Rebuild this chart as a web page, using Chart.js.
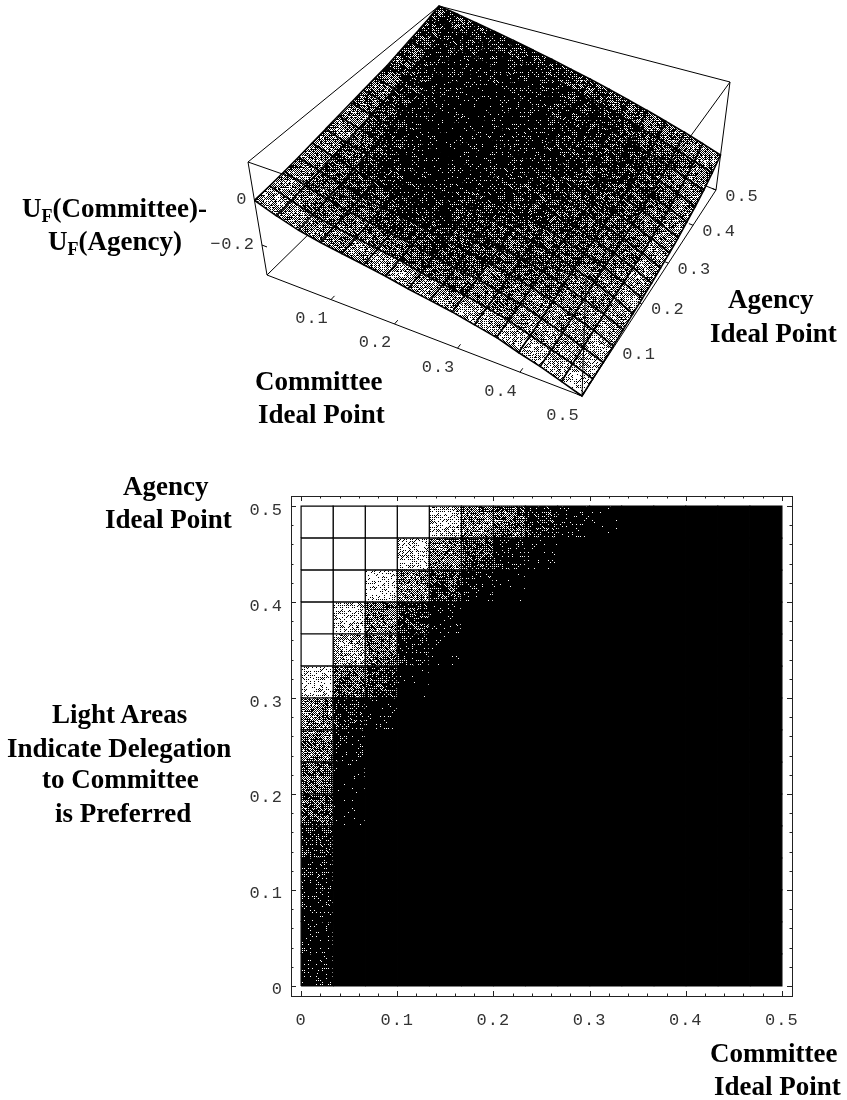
<!DOCTYPE html>
<html>
<head>
<meta charset="utf-8">
<title>Delegation to committee or agency</title>
<script src="https://cdn.jsdelivr.net/npm/chart.js@4/dist/chart.umd.min.js"></script>
<style>
  html, body { margin: 0; padding: 0; background: #fff; }
  #page { position: relative; width: 847px; height: 1100px; overflow: hidden; }
  canvas { position: absolute; left: 0; display: block; }
  #surfaceChart { top: 0; }
  #densityChart { top: 440px; }
  .note { position: absolute; font: bold 27px/30px "Liberation Serif", serif; color: #000; white-space: nowrap; }
  .note sub { font-size: 18px; line-height: 0; vertical-align: -5px; }
</style>
</head>
<body>
<div id="page">
  <canvas id="surfaceChart" width="847" height="440"></canvas>
  <canvas id="densityChart" width="847" height="660"></canvas>
  <div class="note" style="left:22px;top:193px">U<sub>F</sub>(Committee)-</div>
  <div class="note" style="left:48px;top:226px">U<sub>F</sub>(Agency)</div>
  <div class="note" style="left:255px;top:366px">Committee</div>
  <div class="note" style="left:258px;top:399px">Ideal Point</div>
  <div class="note" style="left:728px;top:284px">Agency</div>
  <div class="note" style="left:710px;top:318px">Ideal Point</div>
  <div class="note" style="left:123px;top:471px">Agency</div>
  <div class="note" style="left:105px;top:504px">Ideal Point</div>
  <div class="note" style="left:52px;top:699px">Light Areas</div>
  <div class="note" style="left:7px;top:733px">Indicate Delegation</div>
  <div class="note" style="left:42px;top:764px">to Committee</div>
  <div class="note" style="left:55px;top:798px">is Preferred</div>
  <div class="note" style="left:710px;top:1038px">Committee</div>
  <div class="note" style="left:714px;top:1071px">Ideal Point</div>
</div>
<script>
// --- DATA ---
const gridEdges = [0, .0333, .0667, .1, .1333, .1667, .2, .2333, .2667, .3, .3333, .3667, .4, .4333, .4667, .5];
const planeTicks = [0, 0.1, 0.2, 0.3, 0.4, 0.5];
const heightTicks = [0, -0.2];

// surface heights, one row per agency edge (0 first), one column per committee edge
const surfaceHeights = [
  [0, -.035, -.065, -.085, -.1, -.115, -.13, -.15, -.165, -.18, -.2, -.22, -.25, -.275, -.305, -.334],
  [.005, -.029, -.059, -.079, -.095, -.11, -.125, -.146, -.162, -.175, -.195, -.215, -.245, -.272, -.3, -.331],
  [.012, -.022, -.05, -.072, -.089, -.104, -.12, -.14, -.156, -.17, -.189, -.21, -.24, -.268, -.297, -.329],
  [.02, -.013, -.042, -.063, -.081, -.096, -.113, -.132, -.148, -.161, -.182, -.203, -.232, -.26, -.29, -.324],
  [.03, -.003, -.032, -.053, -.071, -.087, -.104, -.122, -.138, -.153, -.174, -.196, -.226, -.252, -.285, -.319],
  [.04, .007, -.02, -.043, -.061, -.077, -.093, -.108, -.124, -.139, -.161, -.183, -.212, -.241, -.275, -.314],
  [.05, .018, -.01, -.033, -.053, -.069, -.085, -.101, -.118, -.135, -.157, -.18, -.209, -.238, -.272, -.309],
  [.06, .029, 0, -.023, -.043, -.06, -.079, -.096, -.114, -.132, -.155, -.178, -.207, -.235, -.268, -.304],
  [.07, .04, .012, -.011, -.033, -.052, -.069, -.089, -.107, -.127, -.149, -.172, -.201, -.229, -.262, -.296],
  [.08, .051, .023, 0, -.022, -.043, -.061, -.082, -.101, -.121, -.144, -.168, -.195, -.223, -.254, -.288],
  [.09, .061, .034, .01, -.012, -.033, -.052, -.073, -.093, -.114, -.137, -.162, -.188, -.216, -.246, -.278],
  [.105, .077, .051, .026, .004, -.018, -.038, -.06, -.081, -.103, -.126, -.15, -.176, -.204, -.232, -.263],
  [.12, .092, .067, .042, .02, -.003, -.024, -.047, -.068, -.091, -.114, -.139, -.165, -.191, -.219, -.248],
  [.135, .109, .084, .06, .037, .014, -.008, -.031, -.054, -.076, -.1, -.124, -.149, -.175, -.201, -.228],
  [.152, .127, .104, .08, .057, .034, .011, -.011, -.034, -.057, -.08, -.104, -.128, -.152, -.177, -.202],
  [.172, .15, .127, .105, .083, .06, .038, .015, -.007, -.03, -.053, -.076, -.099, -.122, -.146, -.17]
];

// grey level of each surface facet (0 black, 1 white), same row order
const surfaceShades = [
  [.6, .52, .45, .45, .52, .6, .6, .52, .5, .62, .62, .68, .72, .72, .85],
  [.47, .4, .33, .33, .32, .3, .25, .3, .33, .36, .4, .55, .55, .58, .7],
  [.42, .33, .27, .24, .2, .17, .18, .2, .25, .3, .34, .45, .48, .55, .7],
  [.42, .3, .2, .16, .12, .11, .14, .18, .22, .25, .27, .35, .42, .5, .6],
  [.45, .27, .16, .1, .07, .07, .11, .15, .2, .23, .25, .3, .37, .45, .58],
  [.5, .24, .13, .07, .05, .06, .09, .12, .16, .2, .23, .27, .33, .43, .6],
  [.45, .22, .1, .06, .04, .05, .07, .1, .14, .17, .21, .25, .31, .43, .58],
  [.36, .17, .08, .04, .03, .04, .06, .09, .12, .15, .19, .23, .29, .37, .56],
  [.32, .15, .07, .04, .03, .04, .06, .08, .11, .14, .17, .21, .27, .37, .54],
  [.28, .13, .07, .04, .03, .04, .06, .08, .1, .13, .16, .2, .26, .33, .5],
  [.25, .11, .07, .04, .03, .04, .06, .08, .1, .12, .14, .18, .24, .31, .48],
  [.22, .11, .07, .05, .04, .05, .06, .08, .1, .12, .14, .16, .22, .3, .44],
  [.2, .12, .08, .06, .06, .06, .07, .08, .1, .12, .15, .17, .22, .3, .42],
  [.18, .12, .09, .08, .08, .08, .09, .1, .12, .13, .17, .2, .26, .33, .42],
  [.16, .15, .14, .13, .13, .13, .17, .21, .24, .24, .27, .32, .38, .42, .48]
];

// grey level of each density cell, agency 0 row first
const densityShades = [
  [.05, 0, 0, 0, 0, 0, 0, 0, 0, 0, 0, 0, 0, 0, 0],
  [.04, 0, 0, 0, 0, 0, 0, 0, 0, 0, 0, 0, 0, 0, 0],
  [.05, 0, 0, 0, 0, 0, 0, 0, 0, 0, 0, 0, 0, 0, 0],
  [.07, 0, 0, 0, 0, 0, 0, 0, 0, 0, 0, 0, 0, 0, 0],
  [.12, 0, 0, 0, 0, 0, 0, 0, 0, 0, 0, 0, 0, 0, 0],
  [.25, .01, 0, 0, 0, 0, 0, 0, 0, 0, 0, 0, 0, 0, 0],
  [.3, .02, 0, 0, 0, 0, 0, 0, 0, 0, 0, 0, 0, 0, 0],
  [.4, .04, 0, 0, 0, 0, 0, 0, 0, 0, 0, 0, 0, 0, 0],
  [.45, .1, .03, 0, 0, 0, 0, 0, 0, 0, 0, 0, 0, 0, 0],
  [.85, .3, .15, .01, 0, 0, 0, 0, 0, 0, 0, 0, 0, 0, 0],
  [1, .65, .35, .07, .01, 0, 0, 0, 0, 0, 0, 0, 0, 0, 0],
  [1, .8, .4, .15, .03, 0, 0, 0, 0, 0, 0, 0, 0, 0, 0],
  [1, 1, .88, .45, .2, .04, .01, 0, 0, 0, 0, 0, 0, 0, 0],
  [1, 1, 1, .82, .42, .2, .06, .02, 0, 0, 0, 0, 0, 0, 0],
  [1, 1, 1, 1, .78, .45, .33, .12, .04, .01, 0, 0, 0, 0, 0]
];

// --- 3D VIEW ---
// where the box corners land on the hidden axes: c0/a0, c.5/a0, c.5/a.5, c0/a.5
const boxFloor = [[267, 275], [582, 396], [716, 190], [459, 87]];
const boxRoof = [[248, 162], [586, 280], [730, 82], [439, 6]];
const heightRange = [-0.334, 0.172];

const makeHomography = (q) => {
    const [[x0, y0], [x1, y1], [x2, y2], [x3, y3]] = q;
    const dx1 = x1 - x2, dx2 = x3 - x2, sx = x0 - x1 + x2 - x3;
    const dy1 = y1 - y2, dy2 = y3 - y2, sy = y0 - y1 + y2 - y3;
    const den = dx1 * dy2 - dx2 * dy1;
    const g = (sx * dy2 - dx2 * sy) / den;
    const h = (dx1 * sy - sx * dy1) / den;
    return (u, v) => {
        const w = g * u + h * v + 1;
        return [
            ((x1 - x0 + g * x1) * u + (x3 - x0 + h * x3) * v + x0) / w,
            ((y1 - y0 + g * y1) * u + (y3 - y0 + h * y3) * v + y0) / w
        ];
    };
};
const floorMap = makeHomography(boxFloor);
const roofMap = makeHomography(boxRoof);

// committee, agency, height -> position on the hidden axes
const project = (c, a, z) => {
    const f = (z - heightRange[0]) / (heightRange[1] - heightRange[0]);
    const p = floorMap(c / 0.5, a / 0.5);
    const q = roofMap(c / 0.5, a / 0.5);
    return { x: p[0] + (q[0] - p[0]) * f, y: p[1] + (q[1] - p[1]) * f };
};

// --- HALFTONE FILLS ---
const bayer = [
    [0, 32, 8, 40, 2, 34, 10, 42], [48, 16, 56, 24, 50, 18, 58, 26],
    [12, 44, 4, 36, 14, 46, 6, 38], [60, 28, 52, 20, 62, 30, 54, 22],
    [3, 35, 11, 43, 1, 33, 9, 41], [51, 19, 59, 27, 49, 17, 57, 25],
    [15, 47, 7, 39, 13, 45, 5, 37], [63, 31, 55, 23, 61, 29, 53, 21]
];
// integer hash, only used to roughen the print texture
const grain = (x, y) => {
    let h = Math.imul(x, 374761393) + Math.imul(y, 668265263);
    h = Math.imul(h ^ (h >>> 13), 1274126177);
    return ((h ^ (h >>> 16)) >>> 0) / 4294967296;
};
const TILE = 96;
// threshold of every tile pixel, turned into its rank so a level keeps its mean brightness
const tileRanks = (() => {
    const raw = [];
    for (let y = 0; y < TILE; y++) {
        for (let x = 0; x < TILE; x++) {
            raw.push(0.55 * (bayer[y % 8][x % 8] + 0.5) / 64 + 0.3 * grain(x, y) + 0.15 * grain(x >> 2, (y >> 2) + 500));
        }
    }
    const order = raw.map((v, i) => i).sort((a, b) => raw[a] - raw[b]);
    const ranks = new Float32Array(raw.length);
    order.forEach((idx, r) => { ranks[idx] = (r + 0.5) / raw.length; });
    return ranks;
})();
const fillCache = {};
const halftone = (level) => {
    if (level <= 0) return '#000';
    if (level >= 1) return '#fff';
    const key = Math.round(level * 128);
    if (fillCache[key]) return fillCache[key];
    const tile = document.createElement('canvas');
    tile.width = tile.height = TILE;
    const tctx = tile.getContext('2d');
    const img = tctx.createImageData(TILE, TILE);
    tileRanks.forEach((rank, n) => {
        const on = rank < level;
        img.data[n * 4] = img.data[n * 4 + 1] = img.data[n * 4 + 2] = on ? 255 : 0;
        img.data[n * 4 + 3] = 255;
    });
    tctx.putImageData(img, 0, 0);
    fillCache[key] = tctx.createPattern(tile, 'repeat');
    return fillCache[key];
};

const polygonSet = (points, shade, width, order) => ({
    data: points.concat([points[0]]),
    showLine: true,
    fill: 'shape',
    backgroundColor: halftone(shade),
    borderColor: '#000',
    borderWidth: width,
    pointRadius: 0,
    tension: 0,
    clip: false,
    order
});
const lineSet = (points, width, order, color) => ({
    data: points,
    showLine: true,
    fill: false,
    borderColor: color || '#000',
    borderWidth: width,
    pointRadius: 0,
    tension: 0,
    clip: false,
    order
});

// --- TOP CHART: SURFACE ---
const surfaceSets = [];
surfaceShades.forEach((row, j) => {
    row.forEach((shade, i) => {
        const corner = (ci, aj) => project(gridEdges[ci], gridEdges[aj], surfaceHeights[aj][ci]);
        surfaceSets.push(polygonSet([corner(i, j), corner(i + 1, j), corner(i + 1, j + 1), corner(i, j + 1)], shade, 1.6, 100));
    });
});

const [zLow, zHigh] = heightRange;
const boxEdge = (a, b) => [project(a[0], a[1], a[2]), project(b[0], b[1], b[2]), { x: null, y: null }];
const hiddenEdges = [].concat(
    boxEdge([0, 0, zLow], [0, .5, zLow]),
    boxEdge([0, .5, zLow], [.5, .5, zLow])
);
const frontEdges = [].concat(
    boxEdge([0, 0, zLow], [.5, 0, zLow]),
    boxEdge([.5, 0, zLow], [.5, .5, zLow]),
    boxEdge([0, 0, zLow], [0, 0, zHigh]),
    boxEdge([.5, 0, zLow], [.5, 0, zHigh]),
    boxEdge([.5, .5, zLow], [.5, .5, zHigh]),
    boxEdge([0, 0, zHigh], [0, .5, zHigh]),
    boxEdge([0, .5, zHigh], [.5, .5, zHigh]),
    boxEdge([.5, .5, zHigh], [.5, 0, zHigh]),
    boxEdge([.5, 0, zHigh], [0, 0, zHigh])
);
const axisTicks = [];
planeTicks.forEach(t => {
    axisTicks.push(...boxEdge([t, 0, zLow], [t, .008, zLow]));
    axisTicks.push(...boxEdge([.5, t, zLow], [.492, t, zLow]));
});
heightTicks.forEach(t => axisTicks.push(...boxEdge([0, 0, t], [.008, 0, t])));

const surfaceLabels = {
    id: 'surfaceLabels',
    afterDatasetsDraw(chart) {
        const { ctx, scales: { x, y } } = chart;
        const put = (text, p, dx, dy, align) => {
            ctx.textAlign = align;
            ctx.fillText(text, x.getPixelForValue(p.x) + dx, y.getPixelForValue(p.y) + dy);
        };
        ctx.save();
        ctx.font = '17px "Liberation Mono", monospace';
        ctx.letterSpacing = '1px';
        ctx.fillStyle = '#333';
        ctx.textBaseline = 'middle';
        planeTicks.slice(1).forEach(t => {
            put(t.toFixed(1), project(t, 0, zLow), -19, 19, 'center');
            put(t.toFixed(1), project(.5, t, zLow), 26, 6, 'center');
        });
        heightTicks.forEach(t => put(t === 0 ? '0' : t.toFixed(1).replace('-', '\u2212'), project(0, 0, t), -7, -1, 'right'));
        ctx.restore();
    }
};

new Chart(document.getElementById('surfaceChart'), {
    type: 'scatter',
    data: {
        datasets: [
            lineSet(hiddenEdges, 1, 200),
            ...surfaceSets,
            lineSet(frontEdges, 1, 10),
            lineSet(axisTicks, 1, 5)
        ]
    },
    options: {
        responsive: false,
        animation: false,
        events: [],
        layout: { padding: 0 },
        scales: {
            x: { type: 'linear', display: false, min: 0, max: 847 },
            y: { type: 'linear', display: false, min: 0, max: 440, reverse: true }
        },
        plugins: { legend: { display: false }, tooltip: { enabled: false } }
    },
    plugins: [surfaceLabels]
});

// --- BOTTOM CHART: DENSITY PLOT ---
const densitySets = [];
densityShades.forEach((row, j) => {
    row.forEach((shade, i) => {
        const corners = [
            { x: gridEdges[i], y: gridEdges[j] }, { x: gridEdges[i + 1], y: gridEdges[j] },
            { x: gridEdges[i + 1], y: gridEdges[j + 1] }, { x: gridEdges[i], y: gridEdges[j + 1] }
        ];
        densitySets.push(polygonSet(corners, shade, 1.2, 10));
    });
});

const minorStep = [.02, .04, .06, .08];
const frameAndTicks = {
    id: 'frameAndTicks',
    beforeDraw(chart) {
        chart.ctx.letterSpacing = '1px';
    },
    afterDraw(chart) {
        const { ctx, chartArea: { left, right, top, bottom }, scales: { x, y } } = chart;
        ctx.save();
        ctx.strokeStyle = '#222';
        ctx.lineWidth = 1;
        ctx.strokeRect(left + .5, top + .5, right - left, bottom - top);
        const tick = (x0, y0, x1, y1) => { ctx.beginPath(); ctx.moveTo(x0, y0); ctx.lineTo(x1, y1); ctx.stroke(); };
        planeTicks.forEach((t, n) => {
            const steps = [[t, 5]].concat(n < planeTicks.length - 1 ? minorStep.map(m => [t + m, 2.5]) : []);
            steps.forEach(([v, len]) => {
                const px = Math.round(x.getPixelForValue(v)) + .5;
                const py = Math.round(y.getPixelForValue(v)) + .5;
                tick(px, bottom, px, bottom - len);
                tick(px, top, px, top + len);
                tick(left, py, left + len, py);
                tick(right, py, right - len, py);
            });
        });
        ctx.restore();
    }
};

const densityAxis = (size, pad, offset) => ({
    type: 'linear',
    min: -0.0105,
    max: 0.5105,
    grid: { display: false, drawTicks: false },
    border: { display: false },
    afterBuildTicks: (scale) => { scale.ticks = planeTicks.map(value => ({ value })); },
    afterFit: (scale) => { if (scale.isHorizontal()) scale.height = size; else scale.width = size; },
    ticks: {
        autoSkip: false,
        maxRotation: 0,
        padding: pad,
        labelOffset: offset,
        color: '#333',
        font: { family: '"Liberation Mono", monospace', size: 17 },
        callback: (v) => (v === 0 ? '0' : v.toFixed(1))
    }
});

new Chart(document.getElementById('densityChart'), {
    type: 'scatter',
    data: { datasets: densitySets },
    options: {
        responsive: false,
        animation: false,
        events: [],
        layout: { padding: { left: 241, right: 55, top: 56, bottom: 64 } },
        scales: { x: densityAxis(40, 14, 0), y: densityAxis(50, 8, 4) },
        plugins: { legend: { display: false }, tooltip: { enabled: false } }
    },
    plugins: [frameAndTicks]
});
</script>
</body>
</html>
